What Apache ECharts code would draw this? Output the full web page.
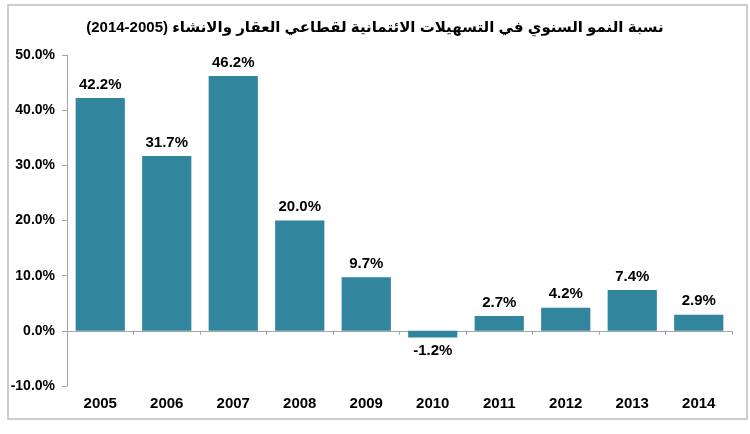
<!DOCTYPE html>
<html>
<head>
<meta charset="utf-8">
<script src="https://cdn.jsdelivr.net/npm/echarts@6/dist/echarts.min.js"></script>
<style>
  html, body { margin: 0; padding: 0; background: #fff; }
  #chart { width: 750px; height: 434px; }
</style>
</head>
<body>
<div id="chart"></div>
<script>
// السنوات ونسب النمو
var years = ['2005', '2006', '2007', '2008', '2009', '2010', '2011', '2012', '2013', '2014'];
var growth = [42.2, 31.7, 46.2, 20.0, 9.7, -1.2, 2.7, 4.2, 7.4, 2.9];
var titleText = '(2014-2005) نسبة النمو السنوي في التسهيلات الائتمانية لقطاعي العقار والانشاء';

var chartDom = document.getElementById('chart');
var myChart = echarts.init(chartDom);
var font = 'Arial, "Liberation Sans", "DejaVu Sans", sans-serif';
var axisGray = '#a6a6a6';

var barData = growth.map(function (v) {
    return {
        value: v,
        label: { position: v < 0 ? 'bottom' : 'top' }
    };
});

var option = {
    backgroundColor: '#fff',
    animation: false,
    title: {
        text: titleText,
        left: 'center',
        top: 15,
        textStyle: { fontFamily: font, fontSize: 15, fontWeight: 'bold', color: '#000' }
    },
    graphic: [{
        type: 'rect',
        shape: { x: 8, y: 5, width: 739, height: 414 },
        style: { fill: 'none', stroke: '#bdbdbd', lineWidth: 1.5 },
        silent: true
    }],
    grid: { left: 67, right: 18, top: 55, bottom: 48 },
    xAxis: [{
        type: 'category',
        data: years,
        axisLine: { onZero: true, lineStyle: { color: axisGray, width: 1 } },
        axisTick: { show: true, length: 4, lineStyle: { color: axisGray } },
        axisLabel: { show: false }
    }, {
        type: 'category',
        data: years,
        position: 'bottom',
        axisLine: { show: false, onZero: false },
        axisTick: { show: false },
        axisLabel: { margin: 10, fontFamily: font, fontSize: 15, fontWeight: 'bold', color: '#000' }
    }],
    yAxis: {
        type: 'value',
        min: -10,
        max: 50,
        interval: 10,
        splitLine: { show: false },
        axisLine: { show: true, lineStyle: { color: axisGray, width: 1 } },
        axisTick: { show: true, length: 5, lineStyle: { color: axisGray } },
        axisLabel: {
            margin: 12,
            fontFamily: font, fontSize: 14, fontWeight: 'bold', color: '#000',
            formatter: function (v) { return v.toFixed(1) + '%'; }
        }
    },
    series: [{
        type: 'bar',
        xAxisIndex: 0,
        data: barData,
        barCategoryGap: '26%',
        itemStyle: { color: '#31859C' },
        label: {
            show: true,
            distance: 6,
            fontFamily: font, fontSize: 15, fontWeight: 'bold', color: '#000',
            formatter: function (p) { return p.value.toFixed(1) + '%'; }
        }
    }]
};
option && myChart.setOption(option);
</script>
</body>
</html>
